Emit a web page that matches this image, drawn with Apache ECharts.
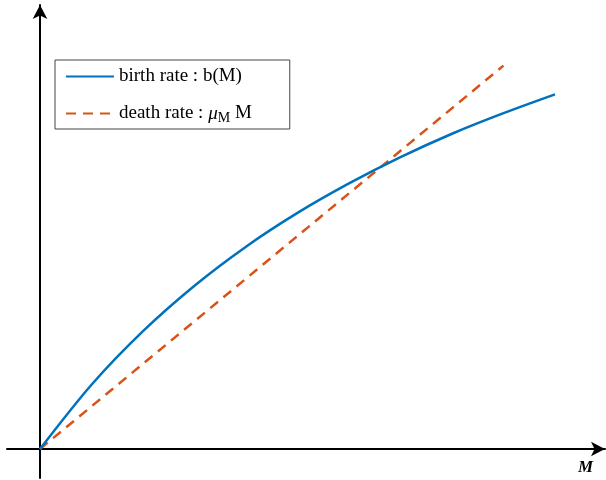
<!DOCTYPE html>
<html>
<head>
<meta charset="utf-8">
<script src="https://cdn.jsdelivr.net/npm/echarts@6/dist/echarts.min.js"></script>
<style>html,body{margin:0;padding:0;background:#fff}#c{width:606px;height:480px}</style>
</head>
<body>
<div id="c"></div>
<script>
// Population size M (arbitrary units)
const mValues = [0, 1, 2, 3, 4, 5, 6, 7, 8, 9, 10];
// birth rate b(M)
const birthRate = [0, 1.81, 3.32, 4.60, 5.70, 6.65, 7.48, 8.22, 8.88, 9.46, 9.99];
// death rate mu_M * M (straight line), end points
const deathM = [0, 9];
const deathRate = [0, 10.8];

const seriesNames = ['birth rate : b(M)', 'death rate : μM M'];

const chart = echarts.init(document.getElementById('c'));
const serif = '"Liberation Serif", "DejaVu Serif", serif';
chart.setOption({
  animation: false,
  backgroundColor: '#fff',
  grid: { left: 7, right: 1, top: 5, bottom: 2 },
  xAxis: {
    type: 'value', min: -0.6408, max: 10.971,
    axisLine: { onZero: true, lineStyle: { color: '#000', width: 2 }, symbol: ['none', 'arrow'], symbolSize: [11, 14] },
    axisTick: { show: false }, axisLabel: { show: false }, splitLine: { show: false }
  },
  yAxis: {
    type: 'value', min: -0.817, max: 12.507,
    axisLine: { onZero: true, lineStyle: { color: '#000', width: 2 }, symbol: ['none', 'arrow'], symbolSize: [11, 14] },
    axisTick: { show: false }, axisLabel: { show: false }, splitLine: { show: false }
  },
  legend: {
    orient: 'vertical', left: 55, top: 60,
    padding: [7, 38, 4, 10], itemGap: 18,
    itemWidth: 48, itemHeight: 14,
    itemStyle: { opacity: 0 },
    borderColor: '#444', borderWidth: 1, backgroundColor: '#fff',
    data: seriesNames,
    formatter: function (n) {
      if (n === seriesNames[1]) return '{t|death rate : }{mu|μ}{sub|M}{t| M}';
      return '{t|' + n + '}';
    },
    textStyle: {
      fontFamily: serif, fontSize: 19, color: '#000',
      rich: {
        t: { fontFamily: serif, fontSize: 19, color: '#000' },
        mu: { fontFamily: serif, fontSize: 19, fontStyle: 'italic', color: '#000' },
        sub: { fontFamily: serif, fontSize: 14, color: '#000', verticalAlign: 'bottom', padding: [9, 0, 0, 0] }
      }
    }
  },
  graphic: [{
    type: 'text', left: 578, top: 459,
    style: { text: 'M', font: 'italic bold 17px "Liberation Serif", serif', fill: '#000' }
  }],
  series: [{
    name: seriesNames[0], type: 'line', smooth: 0.3, symbol: 'none',
    data: mValues.map((m, i) => [m, birthRate[i]]),
    lineStyle: { color: '#0072BD', width: 2.5 }, itemStyle: { color: '#0072BD' }, z: 3
  }, {
    name: seriesNames[1], type: 'line', symbol: 'none',
    data: deathM.map((m, i) => [m, deathRate[i]]),
    lineStyle: { color: '#D95319', width: 2.5, type: [10, 7] }, itemStyle: { color: '#D95319' }, z: 2
  }]
});
</script>
</body>
</html>
